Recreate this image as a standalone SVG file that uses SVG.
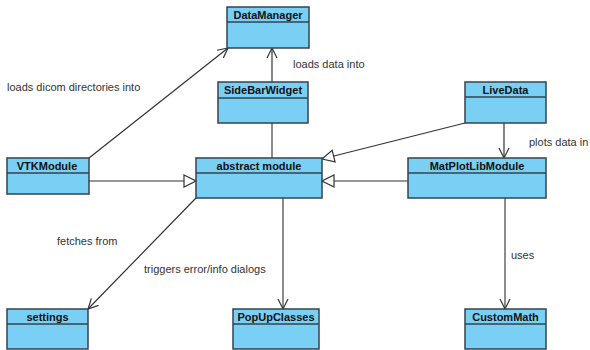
<svg xmlns="http://www.w3.org/2000/svg" width="590" height="350" viewBox="0 0 590 350">
<style>
.box{fill:#7ACFF5;stroke:#34434f;stroke-width:1.5}
.div{stroke:#34434f;stroke-width:1.5}
.name{font-family:"Liberation Sans",Arial,sans-serif;font-size:11px;font-weight:bold;fill:#111;text-anchor:middle}
.lbl{font-family:"Liberation Sans",Arial,sans-serif;font-size:11px;fill:#333}
.con{stroke:#333;stroke-width:1.2;fill:none}
.gray{stroke:#666;stroke-width:1.5;fill:none}
</style>
<defs>
<marker id="open" markerWidth="12" markerHeight="12" refX="10" refY="5" orient="auto" markerUnits="userSpaceOnUse" viewBox="0 0 12 10">
<path d="M0,0 L10,5 L0,10" fill="none" stroke="#333" stroke-width="1.2"/>
</marker>
<marker id="gen" markerWidth="14" markerHeight="14" refX="13" refY="7" orient="auto" markerUnits="userSpaceOnUse" viewBox="0 0 14 14">
<path d="M1,1 L13,7 L1,13 Z" fill="#fff" stroke="#333" stroke-width="1.2"/>
</marker>
</defs>
<g id="connectors">
<line class="con" x1="89" y1="158" x2="228" y2="48" marker-end="url(#open)"/>
<line class="con" x1="272" y1="82" x2="272" y2="48" marker-end="url(#open)"/>
<line class="gray" x1="272" y1="123" x2="272" y2="158"/>
<line class="con" x1="89" y1="181" x2="196" y2="181" marker-end="url(#gen)"/>
<line class="con" x1="408" y1="181" x2="322" y2="181" marker-end="url(#gen)"/>
<line class="con" x1="465" y1="123" x2="322" y2="159" marker-end="url(#gen)"/>
<line class="con" x1="504" y1="123" x2="504" y2="158" marker-end="url(#open)"/>
<line class="con" x1="196" y1="198" x2="88" y2="309" marker-end="url(#open)"/>
<line class="gray" x1="283" y1="198" x2="283" y2="309" marker-end="url(#open)"/>
<line class="gray" x1="505" y1="198" x2="505" y2="309" marker-end="url(#open)"/>
<text class="lbl" x="7" y="91">loads dicom directories into</text>
<text class="lbl" x="293" y="68">loads data into</text>
<text class="lbl" x="529" y="146">plots data in</text>
<text class="lbl" x="57" y="245">fetches from</text>
<text class="lbl" x="144" y="273">triggers error/info dialogs</text>
<text class="lbl" x="511" y="259">uses</text>
</g>
<g id="DataManager">
<rect class="box" x="227" y="7" width="82" height="41"/>
<line class="div" x1="227" y1="22" x2="309" y2="22"/>
<text class="name" x="268" y="19">DataManager</text>
</g>
<g id="SideBarWidget">
<rect class="box" x="218" y="82" width="90" height="41"/>
<line class="div" x1="218" y1="98" x2="308" y2="98"/>
<text class="name" x="263" y="94">SideBarWidget</text>
</g>
<g id="LiveData">
<rect class="box" x="465" y="82" width="81" height="41"/>
<line class="div" x1="465" y1="97" x2="546" y2="97"/>
<text class="name" x="505.5" y="94">LiveData</text>
</g>
<g id="VTKModule">
<rect class="box" x="7" y="158" width="82" height="36"/>
<line class="div" x1="7" y1="173" x2="89" y2="173"/>
<text class="name" x="47" y="170">VTKModule</text>
</g>
<g id="abstractModule">
<rect class="box" x="196" y="158" width="126" height="40"/>
<line class="div" x1="196" y1="173" x2="322" y2="173"/>
<text class="name" x="259" y="170">abstract module</text>
</g>
<g id="MatPlotLibModule">
<rect class="box" x="408" y="158" width="138" height="40"/>
<line class="div" x1="408" y1="173" x2="546" y2="173"/>
<text class="name" x="477" y="170">MatPlotLibModule</text>
</g>
<g id="settings">
<rect class="box" x="7" y="309" width="81" height="40"/>
<line class="div" x1="7" y1="324" x2="88" y2="324"/>
<text class="name" x="47.5" y="321">settings</text>
</g>
<g id="PopUpClasses">
<rect class="box" x="233" y="309" width="86" height="40"/>
<line class="div" x1="233" y1="324" x2="319" y2="324"/>
<text class="name" x="276" y="321">PopUpClasses</text>
</g>
<g id="CustomMath">
<rect class="box" x="465" y="309" width="81" height="40"/>
<line class="div" x1="465" y1="324" x2="546" y2="324"/>
<text class="name" x="505.5" y="321">CustomMath</text>
</g>
</svg>
